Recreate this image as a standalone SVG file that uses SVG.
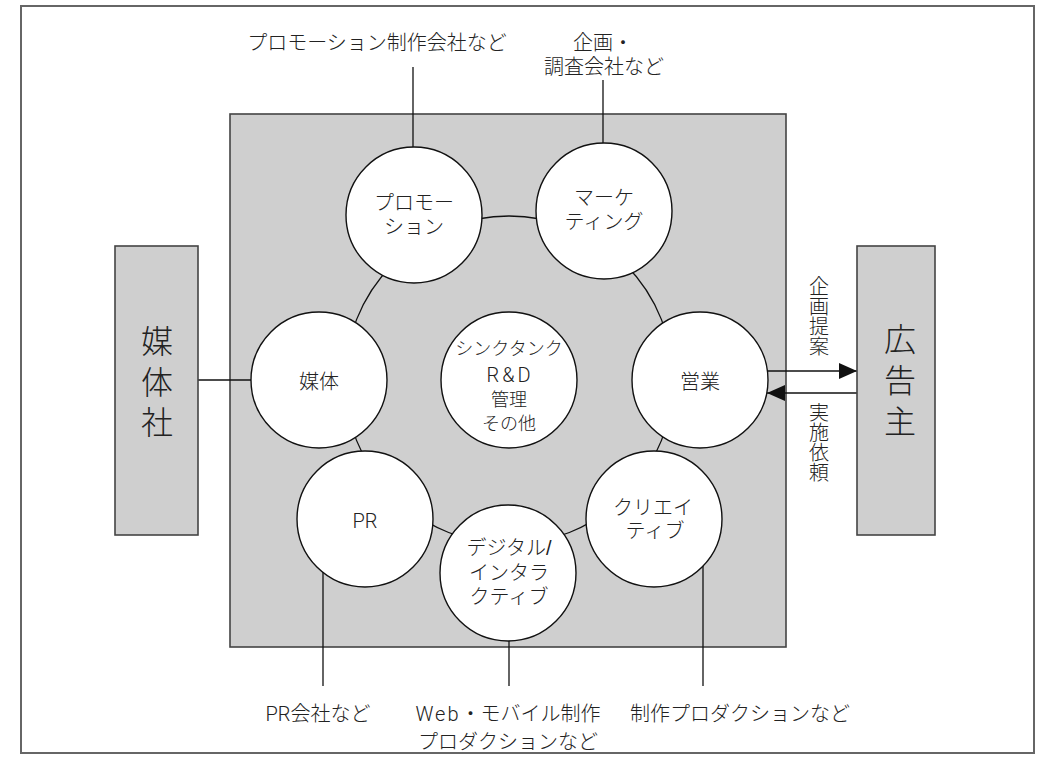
<svg xmlns="http://www.w3.org/2000/svg" width="1052" height="767" viewBox="0 0 1052 767">
<style>
text{font-family:"Liberation Sans","Noto Sans CJK JP",sans-serif;font-weight:300;fill:#222;text-anchor:middle;dominant-baseline:central}
.lat{font-family:"Roboto","Noto Sans CJK JP",sans-serif;font-weight:300}
.t20{font-size:20px}
.t18{font-size:18px}
.big{font-size:32px}
.node{fill:#fff;stroke:#111;stroke-width:1.4}
.box{fill:#cfcfcf;stroke:#444;stroke-width:1.6}
.ln{stroke:#111;stroke-width:1.3;fill:none}
</style>
<defs>
<marker id="ah" markerWidth="18" markerHeight="16" refX="18" refY="8" orient="auto" markerUnits="userSpaceOnUse">
<path d="M0,0 L18,8 L0,16 Z" fill="#111"/>
</marker>
</defs>
<rect x="21" y="6" width="1013" height="747" fill="#fff" stroke="#666" stroke-width="2"/>
<g id="agency">
<rect class="box" x="230" y="114" width="556" height="533"/>
</g>
<g id="connectors">
<circle class="ln" cx="509" cy="380" r="164"/>
<line class="ln" x1="413" y1="67" x2="413" y2="147"/>
<line class="ln" x1="603" y1="80" x2="603" y2="143"/>
<line class="ln" x1="198" y1="380" x2="251" y2="380"/>
<line class="ln" x1="323" y1="570" x2="323" y2="686"/>
<line class="ln" x1="509" y1="641" x2="509" y2="686"/>
<line class="ln" x1="703" y1="566" x2="703" y2="686"/>
<line class="ln" x1="767" y1="371" x2="857" y2="371" stroke-width="1.8" marker-end="url(#ah)"/>
<line class="ln" x1="857" y1="393" x2="767" y2="393" stroke-width="1.3" marker-end="url(#ah)"/>
</g>
<g id="media-company">
<rect class="box" x="115" y="246" width="83" height="289"/>
<text class="big" x="157" y="342">媒</text>
<text class="big" x="157" y="383">体</text>
<text class="big" x="157" y="423">社</text>
</g>
<g id="advertiser">
<rect class="box" x="857" y="246" width="78" height="289"/>
<text class="big" x="900" y="340">広</text>
<text class="big" x="900" y="381">告</text>
<text class="big" x="900" y="422">主</text>
</g>
<g id="label-proposal">
<text class="t20" x="819" y="287">企</text>
<text class="t20" x="819" y="307">画</text>
<text class="t20" x="819" y="327">提</text>
<text class="t20" x="819" y="347">案</text>
</g>
<g id="label-request">
<text class="t20" x="819" y="413">実</text>
<text class="t20" x="819" y="433">施</text>
<text class="t20" x="819" y="453">依</text>
<text class="t20" x="819" y="473">頼</text>
</g>
<g id="promotion">
<circle class="node" cx="414" cy="215" r="68"/>
<text class="t20" x="414" y="203">プロモー</text>
<text class="t20" x="414" y="227">ション</text>
</g>
<g id="marketing">
<circle class="node" cx="604" cy="211" r="68"/>
<text class="t20" x="604" y="198">マーケ</text>
<text class="t20" x="604" y="222">ティング</text>
</g>
<g id="media">
<circle class="node" cx="319" cy="380" r="68"/>
<text class="t20" x="319" y="382">媒体</text>
</g>
<g id="sales">
<circle class="node" cx="700" cy="380" r="68"/>
<text class="t20" x="700" y="382">営業</text>
</g>
<g id="center">
<circle class="node" cx="509" cy="380" r="68"/>
<text class="t18" x="509" y="349">シンクタンク</text>
<text class="t20 lat" x="510" y="375" letter-spacing="3">R&amp;D</text>
<text class="t18" x="509" y="400">管理</text>
<text class="t18" x="509" y="424">その他</text>
</g>
<g id="pr">
<circle class="node" cx="365" cy="519" r="68"/>
<text class="t20 lat" x="365" y="521" font-size="21">PR</text>
</g>
<g id="digital">
<circle class="node" cx="508" cy="573" r="68"/>
<text class="t20" x="509" y="548">デジタル/</text>
<text class="t20" x="509" y="573">インタラ</text>
<text class="t20" x="509" y="597">クティブ</text>
</g>
<g id="creative">
<circle class="node" cx="654" cy="519" r="68"/>
<text class="t20" x="653" y="508">クリエイ</text>
<text class="t20" x="655" y="531">ティブ</text>
</g>
<g id="label-promo-co">
<text class="t20" x="377" y="43">プロモーション制作会社など</text>
</g>
<g id="label-research-co">
<text class="t20" x="603" y="43">企画・</text>
<text class="t20" x="604" y="67">調査会社など</text>
</g>
<g id="label-pr-co">
<text class="t20" x="318" y="714"><tspan class="lat">PR</tspan>会社など</text>
</g>
<g id="label-web-co">
<text class="t20" x="508" y="714"><tspan class="lat" letter-spacing="2">Web</tspan>・モバイル制作</text>
<text class="t20" x="508" y="742">プロダクションなど</text>
</g>
<g id="label-production-co">
<text class="t20" x="740" y="714">制作プロダクションなど</text>
</g>
</svg>
